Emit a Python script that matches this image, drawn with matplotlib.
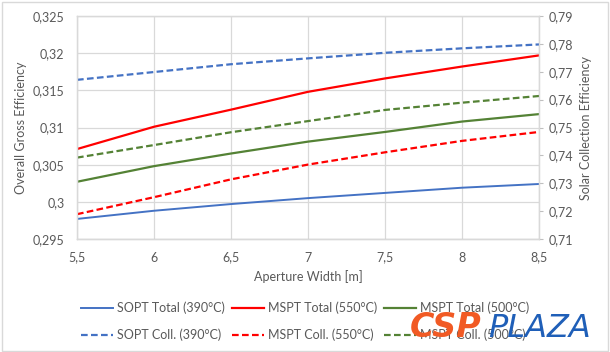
import matplotlib
matplotlib.use("Agg")
import matplotlib.pyplot as plt
from matplotlib.patches import Rectangle
from matplotlib.ticker import FuncFormatter, MultipleLocator

# --- data ---
width = [5.5, 6.0, 6.5, 7.0, 7.5, 8.0, 8.5]

# left axis: overall gross efficiency
sopt_total_390 = [0.2977, 0.2988, 0.2997, 0.3005, 0.3012, 0.3019, 0.3024]
mspt_total_550 = [0.3071, 0.3101, 0.3124, 0.3148, 0.3166, 0.3182, 0.3197]
mspt_total_500 = [0.3027, 0.3048, 0.3065, 0.3081, 0.3094, 0.3108, 0.3118]

# right axis: solar collection efficiency
sopt_coll_390 = [0.7671, 0.7699, 0.7727, 0.7748, 0.7768, 0.7784, 0.7798]
mspt_coll_550 = [0.7189, 0.7250, 0.7314, 0.7367, 0.7411, 0.7452, 0.7484]
mspt_coll_500 = [0.7392, 0.7437, 0.7483, 0.7523, 0.7563, 0.7589, 0.7613]

BLUE = "#4472C4"
RED = "#FF0000"
GREEN = "#548235"
GRID = "#D9D9D9"
TXT = "#595959"

plt.rcParams["font.family"] = ["Lato", "DejaVu Sans"]
plt.rcParams["font.size"] = 9


def comma(v, pos):
    s = ("%.3f" % v).rstrip("0").rstrip(".")
    return s.replace(".", ",")


fig = plt.figure(figsize=(6.1, 3.52), dpi=100)
ax = fig.add_axes([77 / 610, 1 - 239 / 352, (539 - 77) / 610, (239 - 16) / 352])
ax2 = ax.twinx()

lw = 1.6
dash = (3, 1.5)
h1, = ax.plot(width, sopt_total_390, color=BLUE, lw=1.4, label="SOPT Total (390°C)")
h2, = ax.plot(width, mspt_total_550, color=RED, lw=lw, label="MSPT Total (550°C)")
h3, = ax.plot(width, mspt_total_500, color=GREEN, lw=lw, label="MSPT Total (500°C)")
h4, = ax2.plot(width, sopt_coll_390, color=BLUE, lw=lw, dashes=dash, label="SOPT Coll. (390°C)")
h5, = ax2.plot(width, mspt_coll_550, color=RED, lw=lw, dashes=dash, label="MSPT Coll. (550°C)")
h6, = ax2.plot(width, mspt_coll_500, color=GREEN, lw=lw, dashes=dash, label="MSPT Coll. (500°C)")

ax.set_xlim(5.5, 8.5)
ax.set_ylim(0.295, 0.325)
ax2.set_ylim(0.71, 0.79)
ax.xaxis.set_major_locator(MultipleLocator(0.5))
ax.yaxis.set_major_locator(MultipleLocator(0.005))
ax2.yaxis.set_major_locator(MultipleLocator(0.01))
for a in (ax.xaxis, ax.yaxis, ax2.yaxis):
    a.set_major_formatter(FuncFormatter(comma))

ax.grid(True, color=GRID, lw=0.9)
ax.set_axisbelow(True)
for a in (ax, ax2):
    for s in a.spines.values():
        s.set_color(GRID)
        s.set_linewidth(0.9)
ax.spines["bottom"].set_color("#BFBFBF")

ax.tick_params(axis="x", length=0, pad=9, colors=TXT)
ax.tick_params(axis="y", length=0, pad=9, colors=TXT)
ax2.tick_params(axis="y", length=3, pad=4, color="#BFBFBF", labelcolor=TXT)

ax.set_xlabel("Aperture Width [m]", color=TXT, labelpad=5)
ax.set_ylabel("Overall Gross Efficiency", color=TXT, labelpad=4)
ax2.set_ylabel("Solar Collection Efficiency", color=TXT, labelpad=5)

fig.legend([h1, h4, h2, h5, h3, h6], [h.get_label() for h in (h1, h4, h2, h5, h3, h6)],
           loc="center", bbox_to_anchor=(0.5, 1 - 321.5 / 352), ncol=3, frameon=False,
           handlelength=2.6, handletextpad=0.3, columnspacing=0.55, labelspacing=1.15,
           labelcolor=TXT)

# chart frame
fig.patches.append(Rectangle((0.004, 0.004), 0.992, 0.99, transform=fig.transFigure,
                             fill=False, edgecolor=GRID, lw=1.0))

# watermark
fig.text(410 / 610, 1 - 337 / 352, "CSP", color="#F15A24", fontsize=24,
         fontweight="heavy", fontstyle="italic", family=["DejaVu Sans"],
         ha="left", va="baseline", zorder=10)
fig.text(488 / 610, 1 - 337 / 352, "PLAZA", color="#1F5FB8", fontsize=23,
         fontweight="normal", fontstyle="italic", family=["DejaVu Sans"],
         ha="left", va="baseline", zorder=10)

fig.savefig("out.png", dpi=100)
